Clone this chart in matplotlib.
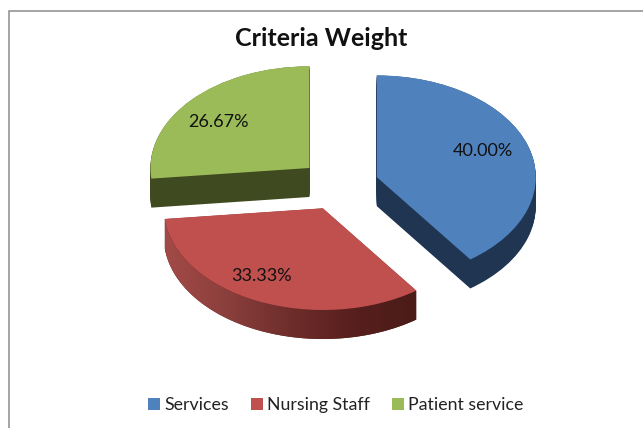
import numpy as np
import matplotlib
matplotlib.use('Agg')
import matplotlib.pyplot as plt
from matplotlib.colors import LinearSegmentedColormap
from matplotlib.patches import Polygon, Rectangle

plt.rcParams['font.family'] = ['Lato', 'DejaVu Sans']

labels = ['Services', 'Nursing Staff', 'Patient service']
values = [40.00, 33.33, 26.67]
top_colors = ['#4f81bd', '#c0504d', '#9bbb59']
side_colors = ['#1f3552', '#5a2320', '#404a20']
red_ramp = ['#a34a47', '#8a3f3c', '#6e2d2b', '#571f1d', '#4b1b18']

W, H = 643, 428
squash = 0.64      # tilt of the pie, y scale of the ellipse
R = 159
depth = 29 / squash
cx, cy = 339, (H - 185) / squash
boom = 0.25 * R    # pie explode is in data units
explode = [boom] * len(values)

fig = plt.figure(figsize=(W / 100, H / 100), dpi=100)
ax = fig.add_axes([0, 0, 1, 1])

# side walls: same pie stacked downwards
for d in np.arange(depth, 0, -1.5):
    ax.pie(values, explode=explode, colors=side_colors, startangle=90, counterclock=False,
           radius=R, center=(cx, cy - d), wedgeprops={'linewidth': 0, 'zorder': 1})

# red wall has a left to right shading
angles = 360 * np.cumsum([0] + values) / np.sum(values)
mid = np.radians((angles[1] + angles[2]) / 2)
ox = cx + boom * np.sin(mid)
oy = cy + boom * np.cos(mid)
t = np.radians(np.linspace(angles[1], angles[2], 200))
ax_x = ox + R * np.sin(t)
ax_y = oy + R * np.cos(t)
wall = np.vstack([np.c_[ax_x, ax_y], np.c_[ax_x[::-1], ax_y[::-1] - depth]])
wall_patch = Polygon(wall, closed=True, transform=ax.transData, facecolor='none', edgecolor='none')
ax.add_patch(wall_patch)
img = ax.imshow(np.linspace(0, 1, 256)[None, :], cmap=LinearSegmentedColormap.from_list('r', red_ramp),
                extent=(ax_x.min(), ax_x.max(), (ax_y - depth).min(), ax_y.max()),
                aspect='auto', zorder=1.5, interpolation='bilinear')
img.set_clip_path(wall_patch)

wedges, _, pct = ax.pie(values, explode=explode, colors=top_colors, startangle=90, counterclock=False,
                        radius=R, center=(cx, cy), autopct='%.2f%%',
                        wedgeprops={'linewidth': 0, 'zorder': 2},
                        textprops={'fontsize': 13, 'color': '#111111', 'zorder': 3})
pct_pos = [(483, 151), (262, 276), (218, 122)]
for p, (px, py) in zip(pct, pct_pos):
    p.set_position((px, (H - py) / squash))

ax.set_aspect('auto')
ax.set_xlim(0, W)
ax.set_ylim(0, H / squash)

# chart border, runs off the right and bottom of the crop
fig.add_artist(Rectangle((9 / W, -0.1), 1.1, 1.1 - 11 / H, transform=fig.transFigure,
                         facecolor='none', edgecolor='#8c8c8c', linewidth=1.1))

fig.text(321 / W, 1 - 38 / H, 'Criteria Weight', ha='center', va='center',
         fontsize=18, fontweight='bold', color='#111111')

fig.legend(wedges, labels, loc='center', bbox_to_anchor=(336 / W, 1 - 405 / H), ncol=3, frameon=False,
           fontsize=12.8, handlelength=0.65, handleheight=0.65, handletextpad=0.25, columnspacing=1.25,
           labelcolor='#222222')

fig.savefig('out.png', dpi=100)
